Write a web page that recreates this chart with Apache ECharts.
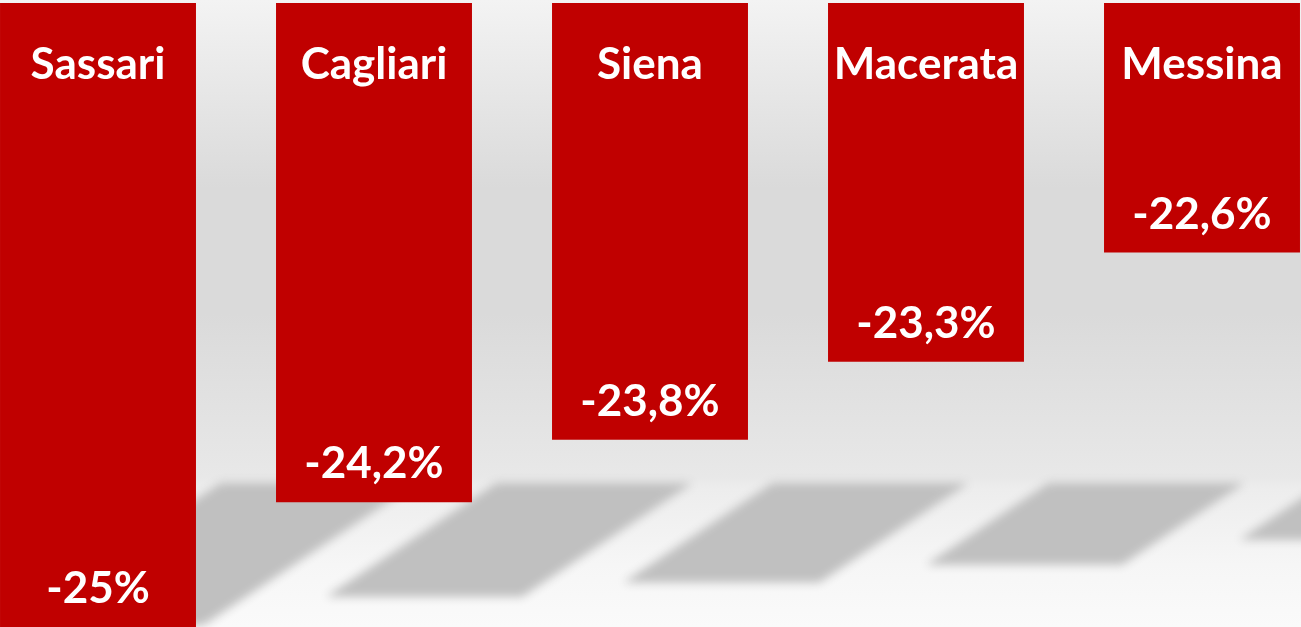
<!DOCTYPE html>
<html>
<head>
<meta charset="utf-8">
<script src="https://cdn.jsdelivr.net/npm/echarts@6/dist/echarts.min.js"></script>
<style>
  html, body { margin: 0; padding: 0; overflow: hidden; width: 1301px; height: 627px; }
  /* bands are 276px wide; the outer half-gaps fall off the page */
  #chart { width: 1380px; height: 627px; margin-left: -40px; }
</style>
</head>
<body>
<div id="chart"></div>
<script>
// province names and their change (%)
const categories = ['Sassari', 'Cagliari', 'Siena', 'Macerata', 'Messina'];
const values = [-25, -24.2, -23.8, -23.3, -22.6];
const axisMin = -25;
const axisMax = -21;

const myChart = echarts.init(document.getElementById('chart'));

const fmtPct = v => String(v).replace('.', ',') + '%';

// grey "floor" shadow of each bar, derived from the bar geometry
const renderShadow = (params, api) => {
  const cs = params.coordSys;
  const idx = api.value(0);
  const bottom = api.coord([idx, api.value(1)]);
  const top = api.coord([idx, axisMax]);
  const bandW = api.size([1, 0])[0];
  const barW = bandW * 0.71;
  const xL = bottom[0] - barW / 2;
  const h = bottom[1] - top[1];
  const horizon = cs.y + cs.height * 0.769;
  const sh = h * 0.228;
  const shift = sh * 1.5;
  const x0 = xL + bandW * 0.8;
  const far = 4000; // draw shape off canvas, keep only the blurred shadow
  return {
    type: 'polygon',
    shape: {
      points: [
        [x0 - far, horizon],
        [x0 + barW - far, horizon],
        [x0 + barW - shift - far, horizon + sh],
        [x0 - shift - far, horizon + sh]
      ]
    },
    style: {
      fill: '#c0c0c0',
      shadowColor: '#c0c0c0',
      shadowBlur: 10,
      shadowOffsetX: far,
      shadowOffsetY: 0
    }
  };
};

const option = {
  backgroundColor: {
    type: 'linear', x: 0, y: 0, x2: 0, y2: 1,
    colorStops: [
      { offset: 0, color: '#f3f3f3' },
      { offset: 0.3, color: '#dadada' },
      { offset: 0.5, color: '#dadada' },
      { offset: 0.76, color: '#e8e8e8' },
      { offset: 0.78, color: '#ededed' },
      { offset: 0.9, color: '#f6f6f6' },
      { offset: 1, color: '#fafafa' }
    ]
  },
  animation: false,
  grid: { left: 0, right: 0, top: 3, bottom: 0 },
  xAxis: {
    type: 'category',
    data: categories,
    show: false
  },
  yAxis: {
    type: 'value',
    min: axisMin,
    max: axisMax,
    show: false
  },
  series: [
    {
      type: 'custom',
      z: 1,
      renderItem: renderShadow,
      data: values.map((v, i) => [i, v])
    },
    {
      type: 'bar',
      z: 2,
      data: values,
      barWidth: '71%',
      clip: true,
      itemStyle: { color: '#c00000' },
      label: {
        show: true,
        position: 'insideBottom',
        distance: 16,
        formatter: p => fmtPct(p.value),
        color: '#fff',
        fontFamily: 'Lato',
        fontWeight: 'bold',
        fontSize: 44
      }
    },
    {
      type: 'bar',
      z: 3,
      data: values,
      barWidth: '71%',
      barGap: '-100%',
      clip: true,
      itemStyle: { color: 'rgba(0,0,0,0)' },
      label: {
        show: true,
        position: 'insideTop',
        distance: 40,
        formatter: '{b}',
        color: '#fff',
        fontFamily: 'Lato',
        fontWeight: 'bold',
        fontSize: 44
      }
    }
  ]
};

myChart.setOption(option);
</script>
</body>
</html>
